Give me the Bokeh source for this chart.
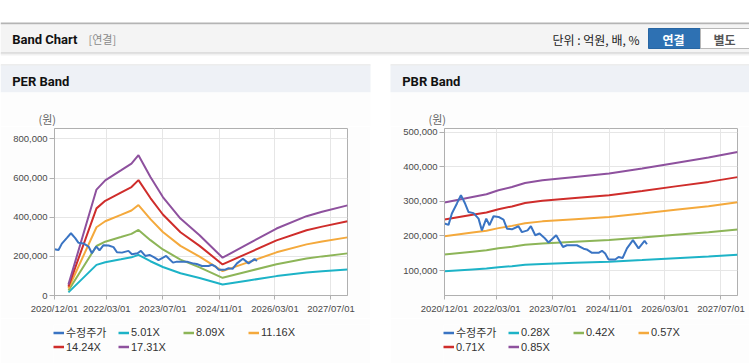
import pandas as pd
from bokeh.plotting import figure
from bokeh.models import (Range1d, FixedTicker, DatetimeTickFormatter, NumeralTickFormatter,
                          Legend, LegendItem, Spacer)
from bokeh.layouts import column, row
from bokeh.embed import file_html
from bokeh.resources import INLINE
from bokeh.core.properties import value

# ---------------- data ----------------
price_name = "수정주가"
price_dates = ["2020-12-01", "2021-01-05", "2021-02-03", "2021-03-19", "2021-04-23", "2021-05-30",
               "2021-06-28", "2021-08-10", "2021-09-23", "2021-10-22", "2021-11-29", "2021-12-27",
               "2022-01-31", "2022-03-16", "2022-04-28", "2022-05-28", "2022-07-10", "2022-09-05",
               "2022-10-05", "2022-11-23", "2022-12-22", "2023-01-29", "2023-03-07", "2023-04-17",
               "2023-05-24", "2023-07-30", "2023-09-27", "2023-10-31", "2024-01-26", "2024-03-24",
               "2024-04-20", "2024-06-05", "2024-08-01", "2024-08-31", "2024-09-28", "2024-10-27",
               "2024-12-24", "2025-01-22", "2025-02-26", "2025-04-05", "2025-05-27", "2025-07-15",
               "2025-09-05", "2025-09-26"]
price_values = [236000, 232000, 265000, 294000, 318000, 293000,
                269000, 266000, 250000, 216000, 250000, 231000,
                257000, 255000, 247000, 221000, 219000, 228000,
                211000, 216000, 228000, 202000, 207000, 195000,
                181000, 202000, 168000, 173000, 173000, 163000,
                161000, 151000, 151000, 157000, 149000, 132000,
                132000, 139000, 136000, 164000, 188000, 164000,
                186000, 176000]

per_names = ["5.01X", "8.09X", "11.16X", "14.24X", "17.31X"]
per_dates = ["2021-04-01", "2021-12-01", "2022-02-15", "2022-07-01", "2022-10-01", "2022-12-01",
             "2023-03-15", "2023-07-01", "2023-12-01", "2024-05-15", "2024-12-01", "2025-07-15",
             "2026-03-15", "2026-12-01", "2027-04-15", "2027-11-22"]
per_501 = [16000, 156600, 170200, 184900, 194900, 207400, 175100, 145600, 113700, 89200,
           55900, 76700, 99000, 117200, 123700, 133300]
per_809 = [25900, 252800, 274800, 298500, 314700, 334900, 282700, 235100, 183600, 144000,
           90200, 123800, 159900, 189300, 199800, 215200]
per_1116 = [35700, 348800, 379100, 411800, 434100, 462000, 390000, 324300, 253300, 198600,
            124400, 170700, 220500, 261100, 275700, 296900]
per_1424 = [45600, 445000, 483700, 525500, 553900, 589500, 497700, 413800, 323200, 253500,
            158800, 217900, 281400, 333200, 351700, 378800]
per_1731 = [55400, 541000, 588000, 638700, 673400, 716600, 605000, 503000, 392900, 308100,
            193000, 264800, 342000, 405100, 427600, 460400]

pbr_names = ["0.28X", "0.42X", "0.57X", "0.71X", "0.85X"]
pbr_dates = ["2020-12-01", "2021-08-01", "2021-12-01", "2022-03-15", "2022-07-10", "2022-11-01",
             "2023-04-01", "2024-01-10", "2024-11-01", "2025-08-15", "2026-06-01", "2027-03-15",
             "2027-11-22"]
pbr_028 = [97700, 103000, 105600, 109400, 112500, 116300, 118900, 122100, 125300, 130100,
           135400, 140500, 145900]
pbr_042 = [146500, 154500, 158400, 164100, 168800, 174500, 178400, 183100, 187900, 195100,
           203100, 210800, 218900]
pbr_057 = [198800, 209700, 214900, 222600, 229100, 236800, 242100, 248500, 255000, 264800,
           275600, 286100, 297100]
pbr_071 = [247600, 261200, 267700, 277300, 285300, 295000, 301500, 309500, 317700, 329800,
           343300, 356300, 370100]
pbr_085 = [296500, 312700, 320500, 332000, 341600, 353200, 361000, 370500, 380300, 394800,
           411000, 426600, 443000]

x_tick_labels = ["2020/12/01", "2022/03/01", "2023/07/01", "2024/11/01", "2026/03/01", "2027/07/01"]
x_start_label = "2020/12/01"
x_end_label = "2027/11/22"
per_y_ticks = [0, 200000, 400000, 600000, 800000]
per_y_range = (0, 853000)
pbr_y_ticks = [100000, 200000, 300000, 400000, 500000]
pbr_y_range = (27700, 510700)

# ---------------- styles ----------------
PRICE_COLOR = "#3a74c3"
BAND_COLORS = ["#1db3c7", "#8db558", "#f4a93c", "#cf2d2b", "#8e519e"]
LATIN_KR = "Liberation Sans, Noto Sans CJK KR"
KR = "Noto Sans CJK KR"
PANEL_BG = "#fdfdfd"
NAN = float("nan")


def to_dt(lst, fmt=None):
    return pd.to_datetime(lst, format=fmt)


x_ticks_ms = [int(t.value // 10**6) for t in to_dt(x_tick_labels, "%Y/%m/%d")]
X_START = pd.to_datetime(x_start_label, format="%Y/%m/%d")
X_END = pd.to_datetime(x_end_label, format="%Y/%m/%d")
fmt = "%Y/%m/%d"
CH_H = 192
LEG_H = 45


def make_chart(width, left, right, y_rng, y_ticks, band_dates, bands, names):
    p = figure(width=width, height=CH_H, x_axis_type="datetime",
               output_backend="svg", toolbar_location=None,
               x_range=Range1d(X_START, X_END), y_range=Range1d(*y_rng),
               min_border_left=left, min_border_right=right,
               min_border_top=2, min_border_bottom=23)
    p.border_fill_color = PANEL_BG
    p.background_fill_color = "#ffffff"
    p.outline_line_color = "#b0b0b0"

    xt = FixedTicker(ticks=x_ticks_ms)
    yt = FixedTicker(ticks=y_ticks)
    p.xaxis.ticker = xt
    p.xgrid.ticker = xt
    p.yaxis.ticker = yt
    p.ygrid.ticker = yt
    p.xaxis.formatter = DatetimeTickFormatter(
        microseconds=fmt, milliseconds=fmt, seconds=fmt, minsec=fmt, minutes=fmt,
        hourmin=fmt, hours=fmt, days=fmt, months=fmt, years=fmt)
    p.yaxis.formatter = NumeralTickFormatter(format="0,0")
    for ax in (p.xaxis, p.yaxis):
        ax.axis_line_color = "#b0b0b0"
        ax.major_tick_line_color = "#b0b0b0"
        ax.minor_tick_line_color = None
        ax.major_tick_in = 0
        ax.major_label_text_font = LATIN_KR
        ax.major_label_text_font_size = "9.5px"
        ax.major_label_text_color = "#4a4a4a"
    p.xaxis.major_tick_out = 4
    p.xaxis.major_label_standoff = 3
    p.yaxis.major_tick_out = 5
    p.yaxis.major_label_standoff = 2
    p.xgrid.grid_line_color = "#e6e6e6"
    p.ygrid.grid_line_color = "#e6e6e6"

    bd = to_dt(band_dates)
    for vals, c in zip(bands, BAND_COLORS):
        p.line(bd, vals, line_color=c, line_width=2)
    p.line(to_dt(price_dates), price_values, line_color=PRICE_COLOR, line_width=2)

    # legend lives in its own strip below the chart (key glyphs only, no data drawn)
    lg = figure(width=width, height=LEG_H, output_backend="svg", toolbar_location=None,
                x_range=Range1d(0, 1), y_range=Range1d(0, 1),
                min_border_left=53, min_border_top=6, min_border_right=0, min_border_bottom=0,
                x_axis_location=None, y_axis_location=None)
    lg.grid.visible = False
    lg.outline_line_color = None
    lg.background_fill_color = PANEL_BG
    lg.border_fill_color = PANEL_BG
    key_r = [lg.line(x=[NAN, NAN], y=[NAN, NAN], line_color=PRICE_COLOR, line_width=2.5)]
    key_r += [lg.line(x=[NAN, NAN], y=[NAN, NAN], line_color=c, line_width=2.5) for c in BAND_COLORS]
    labels = [price_name] + names
    items = [LegendItem(label=lab, renderers=[r]) for lab, r in zip(labels, key_r)]
    legend = Legend(items=items, location="top_left", orientation="horizontal", ncols=4,
                    glyph_width=11, glyph_height=13, label_standoff=2, label_width=52,
                    label_height=13, spacing=0, padding=0, margin=0,
                    border_line_color=None, background_fill_alpha=0,
                    label_text_font=LATIN_KR, label_text_font_size="11px",
                    label_text_color="#333333")
    lg.add_layout(legend)
    return p, lg


per, per_leg = make_chart(370, 54, 23, per_y_range, per_y_ticks, per_dates,
                          [per_501, per_809, per_1116, per_1424, per_1731], per_names)
pbr, pbr_leg = make_chart(359, 54, 12, pbr_y_range, pbr_y_ticks, pbr_dates,
                          [pbr_028, pbr_042, pbr_057, pbr_071, pbr_085], pbr_names)

# ---------------- page header (drawn in pixel space) ----------------
TOP_H = 126
top = figure(width=749, height=TOP_H, x_range=Range1d(0, 749), y_range=Range1d(TOP_H, 0),
             output_backend="svg", toolbar_location=None, min_border=0,
             x_axis_location=None, y_axis_location=None)
top.grid.visible = False
top.outline_line_color = None
top.background_fill_color = "white"
top.border_fill_color = "white"

q_left = [0, 0, 0, 0, 0, 0, 0, 0, 390, 390, 390]
q_right = [749, 749, 749, 749, 749, 370, 370, 370, 749, 749, 749]
q_top = [22, 24, 52, 53, 54, 64, 65, 92, 64, 65, 92]
q_bottom = [24, 52, 53, 54, 55, 65, 92, TOP_H, 65, 92, TOP_H]
q_color = ["#b4b4b4", "#f4f4f4", "#c4c4c4", "#e4e4e4", "#f2f2f2",
           "#dcdcdc", "#eef1f6", PANEL_BG, "#dcdcdc", "#eef1f6", PANEL_BG]
top.quad(left=q_left, right=q_right, top=q_top, bottom=q_bottom,
         fill_color=q_color, line_color=None)
# buttons
top.quad(left=[648], right=[700], top=[28], bottom=[48], fill_color="#2e71b3", line_color="#2866a3")
top.quad(left=[700], right=[756], top=[28], bottom=[48], fill_color="white", line_color="#b8b8b8")

top.text(x=[11.7], y=[38.5], text=["Band Chart"], text_font=value("Roboto"), text_font_style="bold",
         text_font_size="13px", text_color="#111111", text_baseline="middle")
top.text(x=[88], y=[38.5], text=["[연결]"], text_font=value(KR), text_font_size="11px",
         text_color="#8a8a8a", text_baseline="middle")
top.text(x=[552], y=[38.5], text=["단위 : 억원, 배, %"], text_font=value(KR), text_font_size="12px",
         text_color="#222222", text_baseline="middle")
top.text(x=[673], y=[38.5], text=["연결"], text_font=value(KR), text_font_style="bold",
         text_font_size="12px", text_color="white", text_baseline="middle", text_align="center")
top.text(x=[724], y=[38.5], text=["별도"], text_font=value(KR), text_font_style="bold",
         text_font_size="12px", text_color="#555555", text_baseline="middle", text_align="center")
top.text(x=[11.7, 401.7], y=[80.7, 80.7], text=["PER Band", "PBR Band"], text_font=value("Roboto"),
         text_font_style="bold", text_font_size="13px", text_color="#111111", text_baseline="middle")
top.text(x=[38, 428], y=[118.3, 118.3], text=["(원)", "(원)"], text_font=value(KR),
         text_font_size="11px", text_color="#666666", text_baseline="middle")


def strip(width):
    s = figure(width=width, height=1, output_backend="svg", toolbar_location=None, min_border=0,
               x_range=Range1d(0, 1), y_range=Range1d(0, 1),
               x_axis_location=None, y_axis_location=None)
    s.grid.visible = False
    s.outline_line_color = None
    s.background_fill_color = "#d2d2d2"
    s.border_fill_color = "#d2d2d2"
    return s


layout = column(
    top,
    row(per, Spacer(width=20, height=CH_H), pbr, spacing=0),
    row(per_leg, Spacer(width=20, height=LEG_H), pbr_leg, spacing=0),
    row(strip(370), Spacer(width=20, height=1), strip(359), spacing=0),
    spacing=0,
)

open("out.html", "w").write(file_html(layout, INLINE))
